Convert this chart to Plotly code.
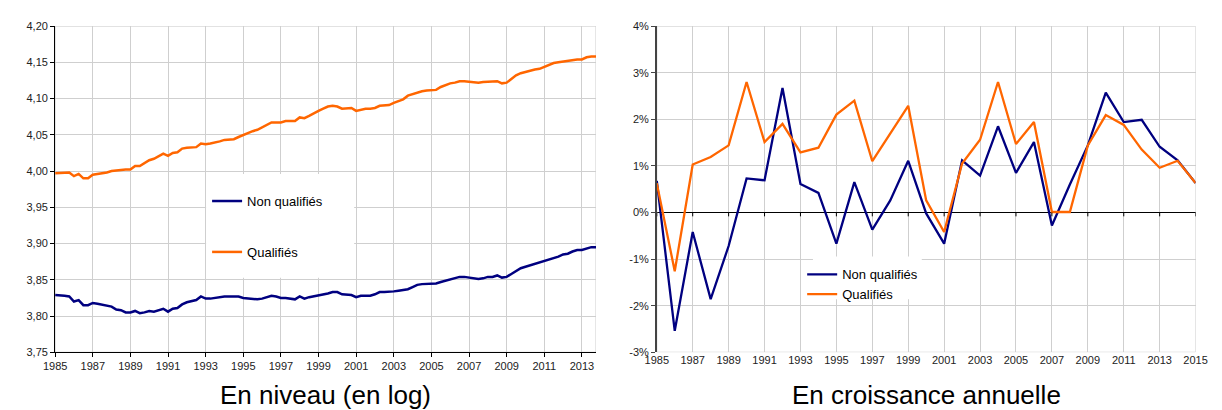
import plotly.graph_objects as go

W, H = 1222, 410

# ---------------- Data ----------------
# Left: quarterly log level, 1985Q1 .. 2013Q4
n_quarters = 116
periods = [1985 + q / 4 for q in range(n_quarters)]

non_qual_level = [
    3.829, 3.829, 3.828, 3.827,  # 1985
    3.820, 3.822, 3.815, 3.815,  # 1986
    3.818, 3.817, 3.816, 3.815,  # 1987
    3.813, 3.809, 3.808, 3.805,  # 1988
    3.805, 3.807, 3.804, 3.805,  # 1989
    3.807, 3.806, 3.808, 3.810,  # 1990
    3.806, 3.810, 3.811, 3.816,  # 1991
    3.819, 3.820, 3.822, 3.827,  # 1992
    3.824, 3.824, 3.825, 3.827,  # 1993
    3.827, 3.827, 3.827, 3.827,  # 1994
    3.825, 3.824, 3.823, 3.823,  # 1995
    3.824, 3.826, 3.828, 3.827,  # 1996
    3.825, 3.825, 3.824, 3.823,  # 1997
    3.827, 3.824, 3.826, 3.827,  # 1998
    3.829, 3.829, 3.831, 3.833,  # 1999
    3.833, 3.830, 3.829, 3.829,  # 2000
    3.826, 3.828, 3.828, 3.828,  # 2001
    3.830, 3.833, 3.833, 3.833,  # 2002
    3.834, 3.835, 3.836, 3.837,  # 2003
    3.840, 3.843, 3.844, 3.844,  # 2004
    3.844, 3.845, 3.847, 3.849,  # 2005
    3.851, 3.853, 3.854, 3.854,  # 2006
    3.853, 3.851, 3.851, 3.852,  # 2007
    3.854, 3.854, 3.856, 3.853,  # 2008
    3.854, 3.858, 3.862, 3.866,  # 2009
    3.868, 3.870, 3.871, 3.873,  # 2010
    3.876, 3.878, 3.879, 3.882,  # 2011
    3.885, 3.886, 3.889, 3.891,  # 2012
    3.891, 3.893, 3.895, 3.895,  # 2013
]

qual_level = [
    3.997, 3.997, 3.997, 3.998,  # 1985
    3.993, 3.996, 3.990, 3.990,  # 1986
    3.995, 3.996, 3.996, 3.998,  # 1987
    4.000, 4.001, 4.001, 4.002,  # 1988
    4.002, 4.007, 4.007, 4.011,  # 1989
    4.015, 4.017, 4.021, 4.024,  # 1990
    4.021, 4.025, 4.026, 4.031,  # 1991
    4.032, 4.032, 4.033, 4.038,  # 1992
    4.037, 4.038, 4.039, 4.041,  # 1993
    4.043, 4.043, 4.044, 4.047,  # 1994
    4.050, 4.052, 4.055, 4.057,  # 1995
    4.060, 4.063, 4.067, 4.067,  # 1996
    4.067, 4.069, 4.069, 4.069,  # 1997
    4.074, 4.073, 4.076, 4.080,  # 1998
    4.083, 4.086, 4.089, 4.090,  # 1999
    4.089, 4.086, 4.086, 4.087,  # 2000
    4.083, 4.085, 4.086, 4.086,  # 2001
    4.087, 4.090, 4.091, 4.091,  # 2002
    4.094, 4.097, 4.099, 4.104,  # 2003
    4.106, 4.109, 4.110, 4.111,  # 2004
    4.111, 4.112, 4.116, 4.119,  # 2005
    4.121, 4.122, 4.124, 4.124,  # 2006
    4.123, 4.123, 4.122, 4.123,  # 2007
    4.123, 4.123, 4.124, 4.121,  # 2008
    4.122, 4.127, 4.132, 4.135,  # 2009
    4.137, 4.139, 4.140, 4.141,  # 2010
    4.144, 4.146, 4.149, 4.150,  # 2011
    4.151, 4.152, 4.154, 4.154,  # 2012
    4.154, 4.157, 4.158, 4.158,  # 2013
]

# Right: annual growth (%), 1985 .. 2015
years = list(range(1985, 2016))
non_qual_growth = [0.68, -2.54, -0.42, -1.86, -0.72, 0.73, 0.69, 2.67, 0.61, 0.42,
                   -0.67, 0.65, -0.37, 0.26, 1.11, -0.02, -0.67, 1.12, 0.79, 1.85,
                   0.85, 1.51, -0.28, 0.60, 1.44, 2.57, 1.94, 1.99, 1.41, 1.12, 0.63]
qual_growth = [0.63, -1.26, 1.03, 1.19, 1.44, 2.80, 1.51, 1.90, 1.29, 1.39,
               2.10, 2.40, 1.10, 1.69, 2.29, 0.26, -0.42, 1.05, 1.56, 2.80,
               1.47, 1.94, 0.01, 0.01, 1.44, 2.09, 1.88, 1.35, 0.96, 1.11, 0.63]

left_xticks = list(range(1985, 2014, 2))
right_xticks = list(range(1985, 2016, 2))
right_yticks = [-3, -2, -1, 0, 1, 2, 3, 4]
right_yticktext = ["-3%", "-2%", "-1%", "0%", "1%", "2%", "3%", "4%"]

names = ["Non qualifiés", "Qualifiés"]
titles = ["En niveau (en log)", "En croissance annuelle"]

# ---------------- Style ----------------
NAVY = "#000080"
ORANGE = "#FF6600"
GRID = "#cfcfcf"
FONT = "Liberation Sans, Arial, sans-serif"
TICKFONT = dict(family=FONT, size=11, color="#222222")
LEGFONT = dict(family=FONT, size=13, color="black")

PLOT_TOP, PLOT_BOT = 20.7, 356.7
L_X0, L_X1 = 44, 595.7
R_X0, R_X1 = 657.7, 1207.3


def px_x(p):
    return p / W


def px_y(p):
    return (H - p) / H


ydom = [px_y(PLOT_BOT), px_y(PLOT_TOP)]
xdom1 = [px_x(L_X0), px_x(L_X1)]
xdom2 = [px_x(R_X0), px_x(R_X1)]
yrange1 = [3.75, 4.20]
yrange2 = [-3, 4]
xrange1 = [1985, 2013.75]
xrange2 = [1985, 2015]


def to_data_x(p, x0, x1, rng):
    return rng[0] + (p - x0) / (x1 - x0) * (rng[1] - rng[0])


def to_data_y(p, rng):
    return rng[1] - (p - PLOT_TOP) / (PLOT_BOT - PLOT_TOP) * (rng[1] - rng[0])


fig = go.Figure()

fig.add_trace(go.Scatter(x=periods, y=non_qual_level, name=names[0], mode="lines",
                         line=dict(color=NAVY, width=2.5), xaxis="x", yaxis="y",
                         legend="legend", legendgroup="g1"))
fig.add_trace(go.Scatter(x=periods, y=qual_level, name=names[1], mode="lines",
                         line=dict(color=ORANGE, width=2.5), xaxis="x", yaxis="y",
                         legend="legend", legendgroup="g2"))
fig.add_trace(go.Scatter(x=years, y=non_qual_growth, name=names[0], mode="lines",
                         line=dict(color=NAVY, width=2.3), xaxis="x2", yaxis="y2",
                         legend="legend2"))
fig.add_trace(go.Scatter(x=years, y=qual_growth, name=names[1], mode="lines",
                         line=dict(color=ORANGE, width=2.3), xaxis="x2", yaxis="y2",
                         legend="legend2"))

common_axis = dict(showgrid=True, gridcolor=GRID, gridwidth=1, tickfont=TICKFONT)

fig.update_layout(
    width=W, height=H,
    margin=dict(l=0, r=0, t=0, b=0),
    paper_bgcolor="white", plot_bgcolor="white",
    separators=",.",
    font=dict(family=FONT, size=12, color="black"),
    xaxis=dict(domain=xdom1, range=xrange1, tickvals=left_xticks, tickformat="d",
               showline=True, linecolor="black", linewidth=1, ticks="outside", ticklen=4,
               tickcolor="black", anchor="y", zeroline=False, **common_axis),
    yaxis=dict(domain=ydom, range=yrange1, dtick=0.05, tick0=3.75, tickformat=".2f",
               showline=True, linecolor="black", linewidth=1, ticks="outside", ticklen=4,
               tickcolor="black", anchor="x", zeroline=False, **common_axis),
    xaxis2=dict(domain=xdom2, range=xrange2, tickvals=right_xticks, tickformat="d",
                showline=False, ticks="", anchor="y2", zeroline=False, **common_axis),
    yaxis2=dict(domain=ydom, range=yrange2, tickvals=right_yticks, ticktext=right_yticktext,
                showline=True, linecolor="#444444", linewidth=1.5, ticks="outside", ticklen=4,
                tickcolor="#444444", anchor="x2", zeroline=True, zerolinecolor="black",
                zerolinewidth=1, **common_axis),
    legend=dict(x=px_x(199), y=px_y(185.5), xanchor="left", yanchor="top",
                bgcolor="rgba(0,0,0,0)", traceorder="grouped", tracegroupgap=31,
                font=LEGFONT),
    legend2=dict(x=px_x(806), y=px_y(261), xanchor="left", yanchor="top",
                 bgcolor="rgba(0,0,0,0)", traceorder="normal", tracegroupgap=0,
                 font=LEGFONT),
    showlegend=True,
)

shapes = []
# plot-area borders
shapes.append(dict(type="rect", xref="x", yref="y", x0=xrange1[0], x1=xrange1[1],
                   y0=yrange1[0], y1=yrange1[1], line=dict(color=GRID, width=1),
                   fillcolor="rgba(0,0,0,0)", layer="between"))
shapes.append(dict(type="rect", xref="x2", yref="y2", x0=xrange2[0], x1=xrange2[1],
                   y0=yrange2[0], y1=yrange2[1], line=dict(color=GRID, width=1),
                   fillcolor="rgba(0,0,0,0)", layer="between"))
# white legend background boxes (hide gridlines like the original)
shapes.append(dict(type="rect", xref="x", yref="y",
                   x0=to_data_x(198, L_X0, L_X1, xrange1), x1=to_data_x(349, L_X0, L_X1, xrange1),
                   y0=to_data_y(280, yrange1), y1=to_data_y(173, yrange1),
                   line=dict(width=0), fillcolor="white", layer="between"))
shapes.append(dict(type="rect", xref="x2", yref="y2",
                   x0=to_data_x(817, R_X0, R_X1, xrange2), x1=to_data_x(928, R_X0, R_X1, xrange2),
                   y0=to_data_y(302, yrange2), y1=to_data_y(258, yrange2),
                   line=dict(width=0), fillcolor="white", layer="between"))
# small tick marks on the 0% crossing axis
tick_len = (yrange2[1] - yrange2[0]) * 4 / (PLOT_BOT - PLOT_TOP)
for t in right_xticks:
    shapes.append(dict(type="line", xref="x2", yref="y2", x0=t, x1=t, y0=0,
                       y1=-tick_len, line=dict(color="black", width=1), layer="above"))
fig.update_layout(shapes=shapes)

# subplot titles below charts
for title, dom in zip(titles, (xdom1, xdom2)):
    fig.add_annotation(text=title, xref="paper", yref="paper",
                       x=(dom[0] + dom[1]) / 2, y=px_y(401), xanchor="center", yanchor="middle",
                       showarrow=False, font=dict(family=FONT, size=26, color="black"))

fig.write_html("out.html", config={"displayModeBar": False},
               post_script="document.body.style.margin='0';")
